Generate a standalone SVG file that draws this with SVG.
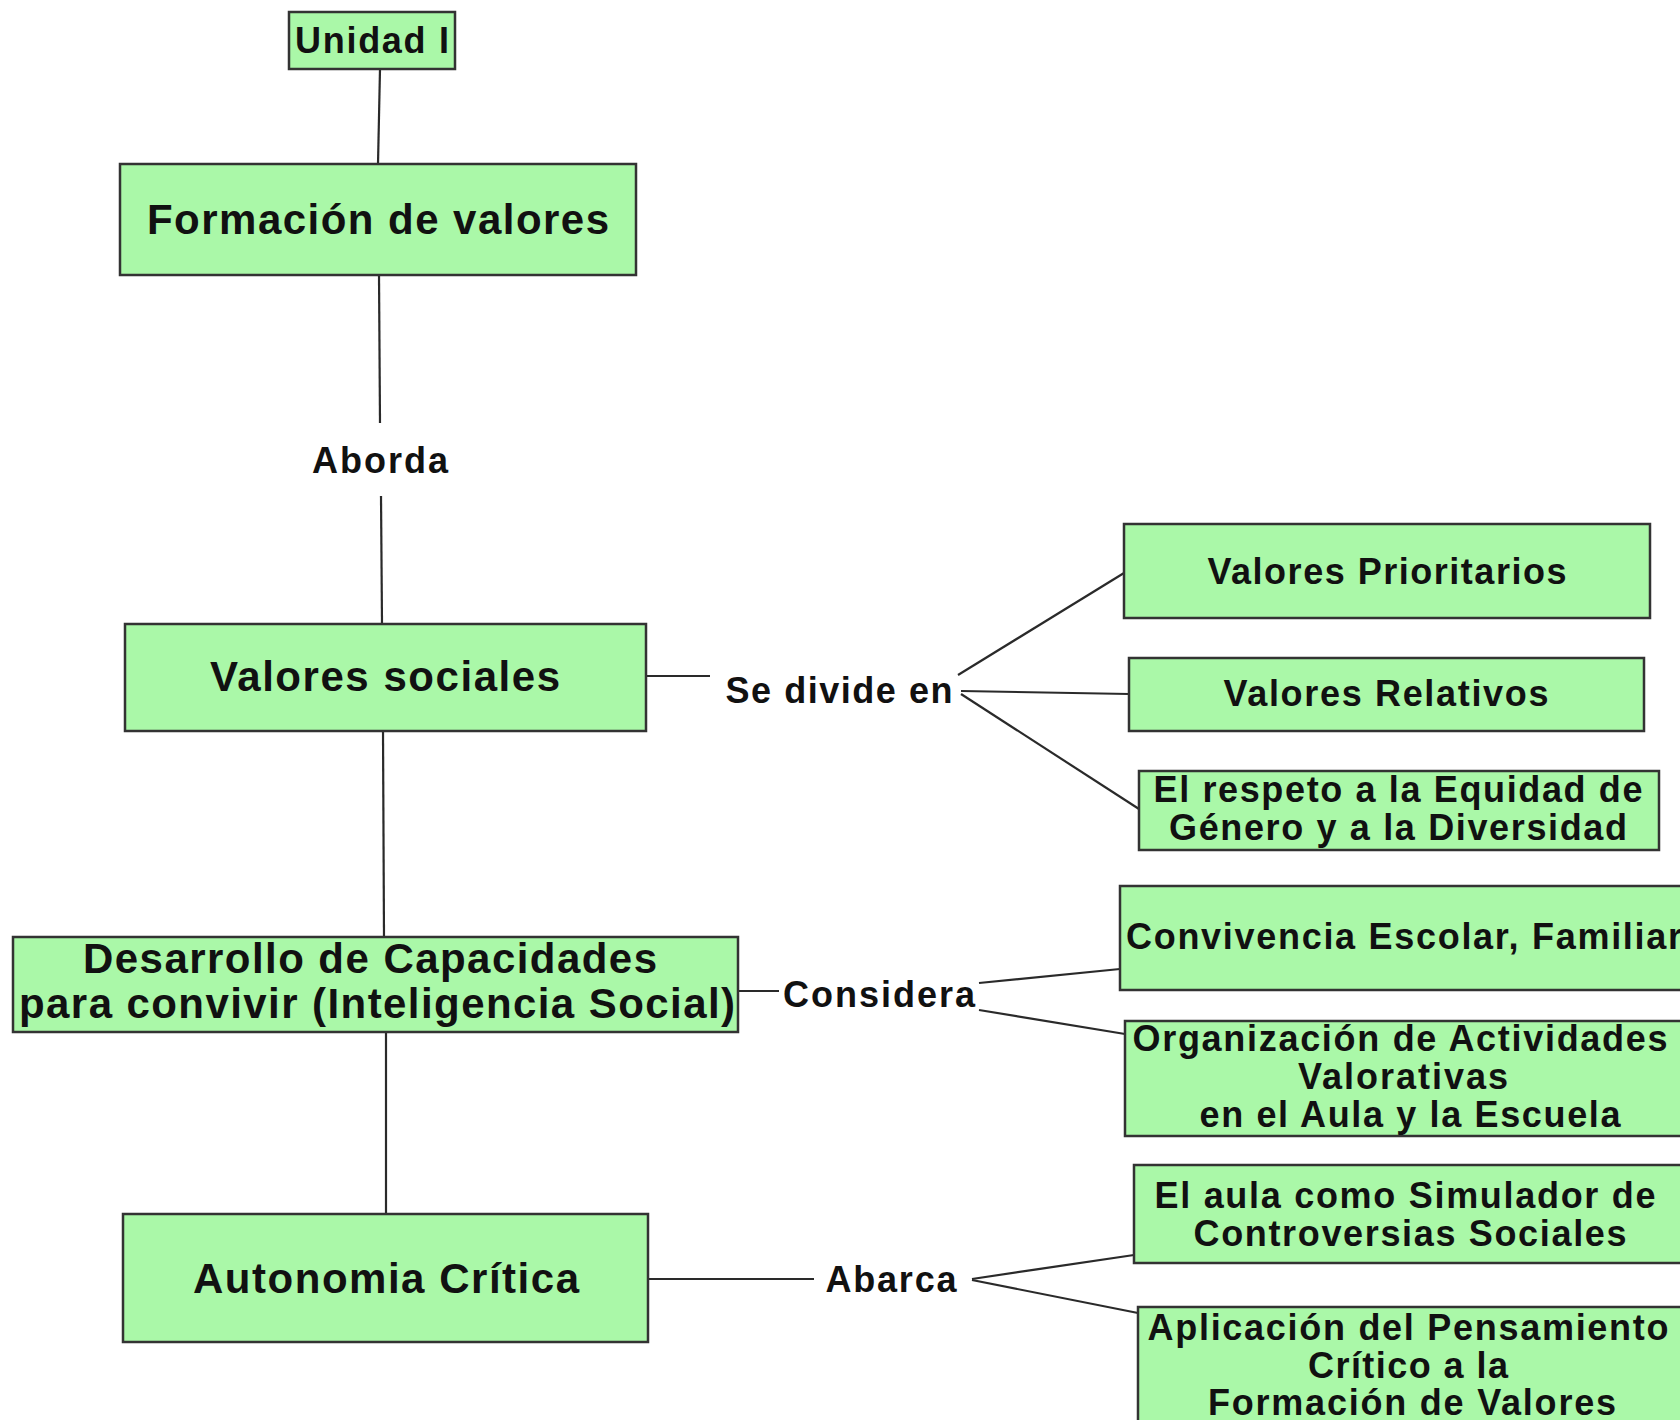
<svg xmlns="http://www.w3.org/2000/svg" width="1680" height="1420" viewBox="0 0 1680 1420">
<style>
.box{fill:#aaf8a8;stroke:#333;stroke-width:2.5}
.t{font-family:"Liberation Sans",Arial,sans-serif;font-weight:bold;fill:#111;text-anchor:middle}
.big{font-size:42px}
.sm{font-size:36px}
.lbl{font-family:"Liberation Sans",Arial,sans-serif;font-weight:bold;fill:#111;text-anchor:middle;font-size:36px}
.c{stroke:#2a2a2a;stroke-width:2.2;fill:none}
</style>
<rect width="1680" height="1420" fill="#fff"/>
<g id="connectors">
<line class="c" x1="380" y1="69" x2="378" y2="164"/>
<line class="c" x1="379" y1="275" x2="380" y2="423"/>
<line class="c" x1="381" y1="496" x2="382" y2="624"/>
<line class="c" x1="383" y1="731" x2="384" y2="937"/>
<line class="c" x1="386" y1="1032" x2="386" y2="1214"/>
<line class="c" x1="646" y1="676" x2="710" y2="676"/>
<line class="c" x1="958" y1="675" x2="1124" y2="573"/>
<line class="c" x1="961" y1="691" x2="1129" y2="694"/>
<line class="c" x1="961" y1="694" x2="1139" y2="809"/>
<line class="c" x1="738" y1="991" x2="779" y2="991"/>
<line class="c" x1="979" y1="983" x2="1120" y2="969"/>
<line class="c" x1="979" y1="1010" x2="1125" y2="1034"/>
<line class="c" x1="648" y1="1279" x2="814" y2="1279"/>
<line class="c" x1="972" y1="1279" x2="1134" y2="1255"/>
<line class="c" x1="972" y1="1280" x2="1138" y2="1313"/>
<text class="lbl" x="380" y="473" textLength="136" lengthAdjust="spacing">Aborda</text>
<text class="lbl" x="839" y="703" textLength="227" lengthAdjust="spacing">Se divide en</text>
<text class="lbl" x="879" y="1007" textLength="192" lengthAdjust="spacing">Considera</text>
<text class="lbl" x="891" y="1292" textLength="131" lengthAdjust="spacing">Abarca</text>
</g>
<g id="n-unidad">
<rect class="box" x="289" y="12" width="166" height="57"/>
<text class="t sm" x="372" y="53" textLength="154" lengthAdjust="spacing">Unidad I</text>
</g>
<g id="n-formacion">
<rect class="box" x="120" y="164" width="516" height="111"/>
<text class="t big" x="378" y="234" textLength="462" lengthAdjust="spacing">Formación de valores</text>
</g>
<g id="n-sociales">
<rect class="box" x="125" y="624" width="521" height="107"/>
<text class="t big" x="385" y="691" textLength="350" lengthAdjust="spacing">Valores sociales</text>
</g>
<g id="n-desarrollo">
<rect class="box" x="13" y="937" width="725" height="95"/>
<text class="t big" x="370" y="973" textLength="574" lengthAdjust="spacing">Desarrollo de Capacidades</text>
<text class="t big" x="377" y="1018" textLength="716" lengthAdjust="spacing">para convivir (Inteligencia Social)</text>
</g>
<g id="n-autonomia">
<rect class="box" x="123" y="1214" width="525" height="128"/>
<text class="t big" x="386" y="1293" textLength="386" lengthAdjust="spacing">Autonomia Crítica</text>
</g>
<g id="n-prioritarios">
<rect class="box" x="1124" y="524" width="526" height="94"/>
<text class="t sm" x="1387" y="584" textLength="359" lengthAdjust="spacing">Valores Prioritarios</text>
</g>
<g id="n-relativos">
<rect class="box" x="1129" y="658" width="515" height="73"/>
<text class="t sm" x="1386" y="706" textLength="325" lengthAdjust="spacing">Valores Relativos</text>
</g>
<g id="n-respeto">
<rect class="box" x="1139" y="771" width="520" height="79"/>
<text class="t sm" x="1398" y="802" textLength="489" lengthAdjust="spacing">El respeto a la Equidad de</text>
<text class="t sm" x="1398" y="840" textLength="458" lengthAdjust="spacing">Género y a la Diversidad</text>
</g>
<g id="n-convivencia">
<rect class="box" x="1120" y="886" width="580" height="104"/>
<text class="t sm" x="1126" y="949" style="text-anchor:start" textLength="556" lengthAdjust="spacing">Convivencia Escolar, Familiar</text>
</g>
<g id="n-organizacion">
<rect class="box" x="1125" y="1021" width="580" height="115"/>
<text class="t sm" x="1400" y="1051" textLength="535" lengthAdjust="spacing">Organización de Actividades</text>
<text class="t sm" x="1403" y="1089" textLength="210" lengthAdjust="spacing">Valorativas</text>
<text class="t sm" x="1410" y="1127" textLength="421" lengthAdjust="spacing">en el Aula y la Escuela</text>
</g>
<g id="n-aula">
<rect class="box" x="1134" y="1165" width="570" height="98"/>
<text class="t sm" x="1405" y="1208" textLength="501" lengthAdjust="spacing">El aula como Simulador de</text>
<text class="t sm" x="1410" y="1246" textLength="433" lengthAdjust="spacing">Controversias Sociales</text>
</g>
<g id="n-aplicacion">
<rect class="box" x="1138" y="1307" width="570" height="130"/>
<text class="t sm" x="1408" y="1340" textLength="521" lengthAdjust="spacing">Aplicación del Pensamiento</text>
<text class="t sm" x="1408" y="1378" textLength="200" lengthAdjust="spacing">Crítico a la</text>
<text class="t sm" x="1412" y="1415" textLength="408" lengthAdjust="spacing">Formación de Valores</text>
</g>
</svg>
